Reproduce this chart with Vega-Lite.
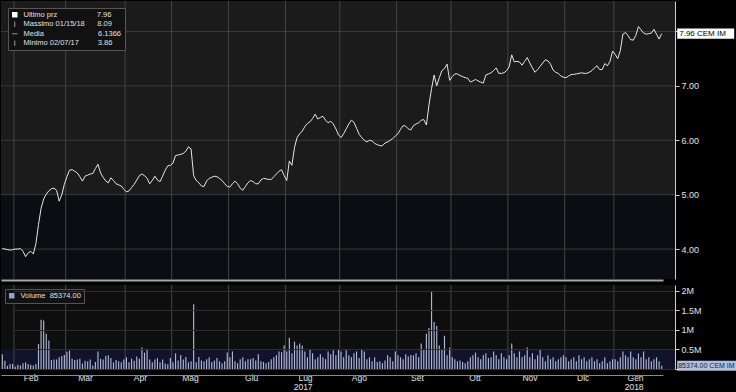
{
  "$schema": "https://vega.github.io/schema/vega-lite/v6.json",
  "background": "#000000",
  "padding": 0,
  "spacing": 1,
  "config": {
    "font": "Liberation Sans",
    "axis": {"labelColor": "#e0e0e0", "labelFont": "Liberation Sans", "labelFontSize": 9, "domainColor": "#c8c8c8", "tickColor": "#d0d0d0", "gridColor": "#383838", "labelOverlap": false},
    "legend": {"orient": "top-left", "title": null, "fillColor": "#111111", "strokeColor": "#555555", "padding": 3, "labelColor": "#e0e0e0", "labelFont": "Liberation Sans", "labelFontSize": 7.5, "rowPadding": 0.5, "labelOffset": 5, "symbolStrokeWidth": 0}
  },
  "datasets": {
    "mesi": [
      {"d": "2017-02-01"}, {"d": "2017-03-01"}, {"d": "2017-04-03"}, {"d": "2017-05-02"}, {"d": "2017-06-01"}, {"d": "2017-07-03"},
      {"d": "2017-08-01"}, {"d": "2017-09-01"}, {"d": "2017-10-02"}, {"d": "2017-11-01"}, {"d": "2017-12-01"}, {"d": "2018-01-02"}
    ],
    "serie": [
      {"d":"2017-01-25","p":4.01,"v":380000},{"d":"2017-01-26","p":4.00,"v":210000},{"d":"2017-01-27","p":3.99,"v":80000},{"d":"2017-01-30","p":3.98,"v":130000},{"d":"2017-01-31","p":3.99,"v":130000},
      {"d":"2017-02-01","p":4.00,"v":60000},{"d":"2017-02-02","p":4.00,"v":110000},{"d":"2017-02-03","p":4.01,"v":90000},{"d":"2017-02-06","p":3.96,"v":150000},{"d":"2017-02-07","p":3.86,"v":170000},
      {"d":"2017-02-08","p":3.93,"v":130000},{"d":"2017-02-09","p":3.96,"v":110000},{"d":"2017-02-10","p":3.91,"v":90000},{"d":"2017-02-13","p":4.10,"v":130000},{"d":"2017-02-14","p":4.45,"v":640000},
      {"d":"2017-02-15","p":4.75,"v":1260000},{"d":"2017-02-16","p":4.92,"v":1240000},{"d":"2017-02-17","p":5.01,"v":900000},{"d":"2017-02-20","p":5.07,"v":730000},{"d":"2017-02-21","p":5.11,"v":230000},
      {"d":"2017-02-22","p":5.12,"v":240000},{"d":"2017-02-23","p":5.08,"v":240000},{"d":"2017-02-24","p":4.88,"v":300000},{"d":"2017-02-27","p":5.00,"v":330000},{"d":"2017-02-28","p":5.19,"v":360000},
      {"d":"2017-03-01","p":5.33,"v":440000},{"d":"2017-03-02","p":5.45,"v":470000},{"d":"2017-03-03","p":5.46,"v":260000},{"d":"2017-03-06","p":5.43,"v":230000},{"d":"2017-03-07","p":5.40,"v":240000},
      {"d":"2017-03-08","p":5.33,"v":260000},{"d":"2017-03-09","p":5.25,"v":140000},{"d":"2017-03-10","p":5.34,"v":210000},{"d":"2017-03-13","p":5.36,"v":190000},{"d":"2017-03-14","p":5.38,"v":240000},
      {"d":"2017-03-15","p":5.39,"v":90000},{"d":"2017-03-16","p":5.48,"v":180000},{"d":"2017-03-17","p":5.56,"v":450000},{"d":"2017-03-20","p":5.40,"v":260000},{"d":"2017-03-21","p":5.32,"v":240000},
      {"d":"2017-03-22","p":5.25,"v":330000},{"d":"2017-03-23","p":5.22,"v":350000},{"d":"2017-03-24","p":5.31,"v":280000},{"d":"2017-03-27","p":5.26,"v":170000},{"d":"2017-03-28","p":5.20,"v":230000},
      {"d":"2017-03-29","p":5.18,"v":200000},{"d":"2017-03-30","p":5.16,"v":170000},{"d":"2017-03-31","p":5.10,"v":240000},{"d":"2017-04-03","p":5.05,"v":300000},{"d":"2017-04-04","p":5.07,"v":170000},
      {"d":"2017-04-05","p":5.13,"v":260000},{"d":"2017-04-06","p":5.19,"v":210000},{"d":"2017-04-07","p":5.27,"v":320000},{"d":"2017-04-10","p":5.35,"v":260000},{"d":"2017-04-11","p":5.38,"v":550000},
      {"d":"2017-04-12","p":5.35,"v":420000},{"d":"2017-04-13","p":5.30,"v":520000},{"d":"2017-04-18","p":5.20,"v":240000},{"d":"2017-04-19","p":5.26,"v":170000},{"d":"2017-04-20","p":5.34,"v":240000},
      {"d":"2017-04-21","p":5.27,"v":280000},{"d":"2017-04-24","p":5.24,"v":170000},{"d":"2017-04-25","p":5.34,"v":240000},{"d":"2017-04-26","p":5.45,"v":140000},{"d":"2017-04-27","p":5.53,"v":120000},
      {"d":"2017-04-28","p":5.54,"v":280000},{"d":"2017-05-02","p":5.58,"v":170000},{"d":"2017-05-03","p":5.72,"v":400000},{"d":"2017-05-04","p":5.73,"v":220000},{"d":"2017-05-05","p":5.74,"v":360000},
      {"d":"2017-05-08","p":5.76,"v":240000},{"d":"2017-05-09","p":5.80,"v":310000},{"d":"2017-05-10","p":5.88,"v":170000},{"d":"2017-05-11","p":5.84,"v":200000},{"d":"2017-05-12","p":5.35,"v":1660000},
      {"d":"2017-05-15","p":5.26,"v":170000},{"d":"2017-05-16","p":5.22,"v":310000},{"d":"2017-05-17","p":5.16,"v":220000},{"d":"2017-05-18","p":5.15,"v":200000},{"d":"2017-05-19","p":5.25,"v":250000},
      {"d":"2017-05-22","p":5.30,"v":300000},{"d":"2017-05-23","p":5.32,"v":180000},{"d":"2017-05-24","p":5.34,"v":220000},{"d":"2017-05-25","p":5.33,"v":280000},{"d":"2017-05-26","p":5.30,"v":200000},
      {"d":"2017-05-29","p":5.26,"v":150000},{"d":"2017-05-30","p":5.20,"v":200000},{"d":"2017-05-31","p":5.15,"v":420000},{"d":"2017-06-01","p":5.14,"v":300000},{"d":"2017-06-02","p":5.20,"v":450000},
      {"d":"2017-06-05","p":5.25,"v":200000},{"d":"2017-06-06","p":5.20,"v":150000},{"d":"2017-06-07","p":5.12,"v":250000},{"d":"2017-06-08","p":5.08,"v":300000},{"d":"2017-06-09","p":5.15,"v":200000},
      {"d":"2017-06-12","p":5.22,"v":250000},{"d":"2017-06-13","p":5.26,"v":250000},{"d":"2017-06-14","p":5.24,"v":280000},{"d":"2017-06-15","p":5.20,"v":220000},{"d":"2017-06-16","p":5.20,"v":380000},
      {"d":"2017-06-19","p":5.27,"v":200000},{"d":"2017-06-20","p":5.30,"v":180000},{"d":"2017-06-21","p":5.29,"v":150000},{"d":"2017-06-22","p":5.28,"v":180000},{"d":"2017-06-23","p":5.28,"v":250000},
      {"d":"2017-06-26","p":5.33,"v":300000},{"d":"2017-06-27","p":5.38,"v":350000},{"d":"2017-06-28","p":5.43,"v":450000},{"d":"2017-06-29","p":5.46,"v":430000},{"d":"2017-06-30","p":5.35,"v":600000},
      {"d":"2017-07-03","p":5.26,"v":450000},{"d":"2017-07-04","p":5.62,"v":800000},{"d":"2017-07-05","p":5.54,"v":400000},{"d":"2017-07-06","p":5.87,"v":700000},{"d":"2017-07-07","p":6.05,"v":600000},
      {"d":"2017-07-10","p":6.12,"v":650000},{"d":"2017-07-11","p":6.17,"v":600000},{"d":"2017-07-12","p":6.25,"v":450000},{"d":"2017-07-13","p":6.31,"v":300000},{"d":"2017-07-14","p":6.34,"v":500000},
      {"d":"2017-07-17","p":6.40,"v":400000},{"d":"2017-07-18","p":6.48,"v":250000},{"d":"2017-07-19","p":6.39,"v":300000},{"d":"2017-07-20","p":6.42,"v":380000},{"d":"2017-07-21","p":6.44,"v":300000},
      {"d":"2017-07-24","p":6.37,"v":250000},{"d":"2017-07-25","p":6.32,"v":450000},{"d":"2017-07-26","p":6.35,"v":380000},{"d":"2017-07-27","p":6.30,"v":480000},{"d":"2017-07-28","p":6.21,"v":350000},
      {"d":"2017-07-31","p":6.10,"v":500000},{"d":"2017-08-01","p":6.05,"v":450000},{"d":"2017-08-02","p":6.12,"v":300000},{"d":"2017-08-03","p":6.21,"v":480000},{"d":"2017-08-04","p":6.30,"v":350000},
      {"d":"2017-08-07","p":6.37,"v":300000},{"d":"2017-08-08","p":6.33,"v":400000},{"d":"2017-08-09","p":6.22,"v":450000},{"d":"2017-08-10","p":6.11,"v":280000},{"d":"2017-08-11","p":6.05,"v":500000},
      {"d":"2017-08-14","p":6.00,"v":450000},{"d":"2017-08-16","p":5.97,"v":250000},{"d":"2017-08-17","p":6.00,"v":300000},{"d":"2017-08-18","p":5.99,"v":200000},{"d":"2017-08-21","p":5.94,"v":300000},
      {"d":"2017-08-22","p":5.92,"v":180000},{"d":"2017-08-23","p":5.90,"v":200000},{"d":"2017-08-24","p":5.90,"v":150000},{"d":"2017-08-25","p":5.95,"v":220000},{"d":"2017-08-28","p":5.97,"v":350000},
      {"d":"2017-08-29","p":6.00,"v":300000},{"d":"2017-08-30","p":6.03,"v":200000},{"d":"2017-08-31","p":6.08,"v":450000},{"d":"2017-09-01","p":6.12,"v":350000},{"d":"2017-09-04","p":6.20,"v":300000},
      {"d":"2017-09-05","p":6.27,"v":250000},{"d":"2017-09-06","p":6.26,"v":380000},{"d":"2017-09-07","p":6.21,"v":320000},{"d":"2017-09-08","p":6.19,"v":360000},{"d":"2017-09-11","p":6.27,"v":350000},
      {"d":"2017-09-12","p":6.30,"v":400000},{"d":"2017-09-13","p":6.32,"v":300000},{"d":"2017-09-14","p":6.37,"v":650000},{"d":"2017-09-15","p":6.38,"v":500000},{"d":"2017-09-18","p":6.28,"v":900000},
      {"d":"2017-09-19","p":6.65,"v":1050000},{"d":"2017-09-20","p":6.95,"v":2000000},{"d":"2017-09-21","p":7.20,"v":1200000},{"d":"2017-09-22","p":7.00,"v":1100000},{"d":"2017-09-25","p":7.15,"v":600000},
      {"d":"2017-09-26","p":7.28,"v":500000},{"d":"2017-09-27","p":7.32,"v":850000},{"d":"2017-09-28","p":7.40,"v":350000},{"d":"2017-09-29","p":7.10,"v":550000},{"d":"2017-10-02","p":7.17,"v":300000},
      {"d":"2017-10-03","p":7.22,"v":250000},{"d":"2017-10-04","p":7.22,"v":200000},{"d":"2017-10-05","p":7.19,"v":220000},{"d":"2017-10-06","p":7.17,"v":180000},{"d":"2017-10-09","p":7.15,"v":150000},
      {"d":"2017-10-10","p":7.14,"v":200000},{"d":"2017-10-11","p":7.07,"v":300000},{"d":"2017-10-12","p":7.09,"v":350000},{"d":"2017-10-13","p":7.12,"v":420000},{"d":"2017-10-16","p":7.09,"v":300000},
      {"d":"2017-10-17","p":7.07,"v":250000},{"d":"2017-10-18","p":7.05,"v":350000},{"d":"2017-10-19","p":7.20,"v":400000},{"d":"2017-10-20","p":7.22,"v":280000},{"d":"2017-10-23","p":7.24,"v":300000},
      {"d":"2017-10-24","p":7.28,"v":450000},{"d":"2017-10-25","p":7.33,"v":350000},{"d":"2017-10-26","p":7.23,"v":250000},{"d":"2017-10-27","p":7.23,"v":400000},{"d":"2017-10-30","p":7.24,"v":300000},
      {"d":"2017-10-31","p":7.28,"v":250000},{"d":"2017-11-01","p":7.35,"v":350000},{"d":"2017-11-02","p":7.57,"v":650000},{"d":"2017-11-03","p":7.44,"v":400000},{"d":"2017-11-06","p":7.45,"v":300000},
      {"d":"2017-11-07","p":7.44,"v":450000},{"d":"2017-11-08","p":7.38,"v":300000},{"d":"2017-11-09","p":7.45,"v":350000},{"d":"2017-11-10","p":7.52,"v":550000},{"d":"2017-11-13","p":7.42,"v":300000},
      {"d":"2017-11-14","p":7.33,"v":400000},{"d":"2017-11-15","p":7.25,"v":250000},{"d":"2017-11-16","p":7.30,"v":350000},{"d":"2017-11-17","p":7.36,"v":500000},{"d":"2017-11-20","p":7.42,"v":300000},
      {"d":"2017-11-21","p":7.48,"v":200000},{"d":"2017-11-22","p":7.46,"v":350000},{"d":"2017-11-23","p":7.40,"v":250000},{"d":"2017-11-24","p":7.29,"v":300000},{"d":"2017-11-27","p":7.25,"v":200000},
      {"d":"2017-11-28","p":7.23,"v":250000},{"d":"2017-11-29","p":7.18,"v":300000},{"d":"2017-11-30","p":7.16,"v":350000},{"d":"2017-12-01","p":7.15,"v":300000},{"d":"2017-12-04","p":7.18,"v":200000},
      {"d":"2017-12-05","p":7.21,"v":250000},{"d":"2017-12-06","p":7.21,"v":300000},{"d":"2017-12-07","p":7.22,"v":200000},{"d":"2017-12-08","p":7.23,"v":350000},{"d":"2017-12-11","p":7.24,"v":250000},
      {"d":"2017-12-12","p":7.23,"v":300000},{"d":"2017-12-13","p":7.23,"v":200000},{"d":"2017-12-14","p":7.25,"v":250000},{"d":"2017-12-15","p":7.28,"v":300000},{"d":"2017-12-18","p":7.33,"v":200000},
      {"d":"2017-12-19","p":7.37,"v":250000},{"d":"2017-12-20","p":7.30,"v":150000},{"d":"2017-12-21","p":7.30,"v":200000},{"d":"2017-12-22","p":7.41,"v":300000},{"d":"2017-12-27","p":7.37,"v":150000},
      {"d":"2017-12-28","p":7.45,"v":200000},{"d":"2017-12-29","p":7.64,"v":250000},{"d":"2018-01-02","p":7.58,"v":250000},{"d":"2018-01-03","p":7.50,"v":200000},{"d":"2018-01-04","p":7.65,"v":300000},
      {"d":"2018-01-05","p":7.95,"v":450000},{"d":"2018-01-08","p":7.98,"v":350000},{"d":"2018-01-09","p":7.92,"v":300000},{"d":"2018-01-10","p":7.85,"v":450000},{"d":"2018-01-11","p":7.84,"v":300000},
      {"d":"2018-01-12","p":7.93,"v":250000},{"d":"2018-01-15","p":8.09,"v":400000},{"d":"2018-01-16","p":8.03,"v":300000},{"d":"2018-01-17","p":7.97,"v":450000},{"d":"2018-01-18","p":7.95,"v":250000},
      {"d":"2018-01-19","p":7.96,"v":300000},{"d":"2018-01-22","p":7.97,"v":200000},{"d":"2018-01-23","p":8.04,"v":250000},{"d":"2018-01-24","p":7.95,"v":300000},{"d":"2018-01-25","p":7.86,"v":200000},
      {"d":"2018-01-26","p":7.96,"v":85374}
    ]
  },
  "resolve": {
    "scale": {"x": "shared", "color": "independent", "shape": "independent"},
    "legend": {"color": "independent", "shape": "independent"}
  },
  "vconcat": [
    {
      "width": 674,
      "height": 278,
      "view": {"fill": "#0c0c13", "stroke": null},
      "layer": [
        {
          "data": {"values": [{}]},
          "mark": {"type": "rect", "color": "#1b1b1b"},
          "encoding": {"y": {"datum": 5, "type": "quantitative"}, "y2": {"datum": 8.56}}
        },
        {
          "data": {"values": [{"g": 4}, {"g": 5}, {"g": 6}, {"g": 7}, {"g": 8}]},
          "mark": {"type": "rule", "color": "#3a3a3a", "strokeWidth": 1},
          "encoding": {"y": {"field": "g", "type": "quantitative"}}
        },
        {
          "data": {"name": "mesi"},
          "mark": {"type": "rule", "color": "#444444", "strokeWidth": 1},
          "encoding": {"x": {"field": "d", "type": "ordinal", "bandPosition": 0}}
        },
        {
          "data": {"name": "serie"},
          "mark": {"type": "line", "color": "#e6e6e6", "strokeWidth": 1},
          "encoding": {
            "x": {
              "field": "d", "type": "ordinal",
              "scale": {"range": [0, 662], "paddingInner": 0, "paddingOuter": 0},
              "axis": {"title": null, "labels": false, "ticks": false, "grid": false, "domain": true, "domainColor": "#a8a8a8", "domainWidth": 2, "offset": 1, "maxExtent": 3, "minExtent": 3}
            },
            "y": {
              "field": "p", "type": "quantitative",
              "scale": {"domain": [3.45, 8.56], "zero": false, "nice": false},
              "axis": {
                "orient": "right", "title": null, "minExtent": 62, "grid": false, "labelOverlap": false,
                "values": [4, 4.5, 5, 5.5, 6, 6.5, 7, 7.5, 8],
                "labelExpr": "(datum.value % 1 == 0 && datum.value != 8) ? format(datum.value, '.2f') : ''",
                "tickSize": {"condition": {"test": "datum.value % 1 == 0", "value": 4}, "value": 2},
                "labelPadding": 2, "domainColor": "#cfcfcf"
              }
            }
          }
        },
        {
          "data": {"values": []},
          "mark": {"type": "point", "filled": true, "opacity": 1},
          "encoding": {
            "color": {
              "field": "k", "type": "nominal",
              "scale": {
                "domain": ["Ultimo prz\u00a0\u00a0\u00a0\u00a0\u00a0\u00a0\u00a0\u00a0\u00a0\u00a0\u00a0\u00a0\u00a0\u00a0\u00a0\u00a0\u00a0\u00a0\u00a07.96", "Massimo 01/15/18\u00a0\u00a0\u00a0\u00a0\u00a0\u00a08.09", "Media\u00a0\u00a0\u00a0\u00a0\u00a0\u00a0\u00a0\u00a0\u00a0\u00a0\u00a0\u00a0\u00a0\u00a0\u00a0\u00a0\u00a0\u00a0\u00a0\u00a0\u00a0\u00a0\u00a0\u00a0\u00a0\u00a06.1366", "Minimo 02/07/17\u00a0\u00a0\u00a0\u00a0\u00a0\u00a0\u00a0\u00a0\u00a03.86"],
                "range": ["#ffffff", "#8a8a8a", "#8a8a8a", "#8a8a8a"]
              },
              "legend": {"offset": 7, "symbolSize": 30, "labelFontSize": 7.5, "labelLimit": 200}
            },
            "shape": {
              "field": "k", "type": "nominal",
              "scale": {
                "domain": ["Ultimo prz\u00a0\u00a0\u00a0\u00a0\u00a0\u00a0\u00a0\u00a0\u00a0\u00a0\u00a0\u00a0\u00a0\u00a0\u00a0\u00a0\u00a0\u00a0\u00a07.96", "Massimo 01/15/18\u00a0\u00a0\u00a0\u00a0\u00a0\u00a08.09", "Media\u00a0\u00a0\u00a0\u00a0\u00a0\u00a0\u00a0\u00a0\u00a0\u00a0\u00a0\u00a0\u00a0\u00a0\u00a0\u00a0\u00a0\u00a0\u00a0\u00a0\u00a0\u00a0\u00a0\u00a0\u00a0\u00a06.1366", "Minimo 02/07/17\u00a0\u00a0\u00a0\u00a0\u00a0\u00a0\u00a0\u00a0\u00a03.86"],
                "range": ["square", "M-0.2,-1H0.2V1H-0.2Z", "M-1,-0.2H1V0.2H-1Z", "M-0.2,-1H0.2V1H-0.2Z"]
              },
              "legend": {"offset": 7, "symbolSize": 30, "labelFontSize": 7.5, "labelLimit": 200}
            }
          }
        },
        {
          "data": {"values": [{"d": "2018-01-26", "p": 7.96, "t": "7.96 CEM IM"}]},
          "layer": [
            {
              "mark": {"type": "point", "filled": true, "opacity": 1, "color": "#ffffff", "shape": "M0,-0.09H1V0.09H0Z", "size": 12996, "xOffset": 15.5, "strokeWidth": 0},
              "encoding": {"x": {"field": "d", "type": "ordinal"}, "y": {"field": "p", "type": "quantitative"}}
            },
            {
              "mark": {"type": "text", "color": "#000000", "align": "left", "baseline": "middle", "dx": 17.5, "fontSize": 8, "font": "Liberation Sans"},
              "encoding": {"x": {"field": "d", "type": "ordinal"}, "y": {"field": "p", "type": "quantitative"}, "text": {"field": "t"}}
            }
          ]
        }
      ]
    },
    {
      "width": 674,
      "height": 84,
      "view": {"fill": "#0e0e0e", "stroke": null},
      "layer": [
        {
          "data": {"values": [{}]},
          "mark": {"type": "rect", "color": "#12122a"},
          "encoding": {"y": {"datum": 0, "type": "quantitative"}, "y2": {"datum": 500000}}
        },
        {
          "data": {"name": "mesi"},
          "mark": {"type": "rule", "color": "#444444", "strokeWidth": 1},
          "encoding": {"x": {"field": "d", "type": "ordinal", "bandPosition": 0}}
        },
        {
          "data": {"name": "serie"},
          "mark": {"type": "bar", "color": "#a9b7d8", "width": {"band": 0.45}},
          "encoding": {
            "x": {
              "field": "d", "type": "ordinal",
              "scale": {"range": [0, 662], "paddingInner": 0, "paddingOuter": 0},
              "axis": {
                "title": null, "orient": "bottom", "offset": 6, "ticks": false, "grid": false,
                "values": ["2017-02-14", "2017-03-15", "2017-04-13", "2017-05-16", "2017-06-16", "2017-07-17", "2017-08-16", "2017-09-15", "2017-10-17", "2017-11-16", "2017-12-14", "2018-01-17"],
                "labelExpr": "datum.value == '2017-07-17' ? ['Lug', '2017'] : datum.value == '2018-01-17' ? ['Gen', '2018'] : ['Gen','Feb','Mar','Apr','Mag','Giu','Lug','Ago','Set','Ott','Nov','Dic'][toNumber(substring(datum.value, 5, 7)) - 1]",
                "labelAngle": 0, "labelPadding": 2, "labelLineHeight": 9, "labelFontSize": 8.5,
                "domainColor": "#8a8a8a", "minExtent": 26, "maxExtent": 26
              }
            },
            "y": {
              "field": "v", "type": "quantitative",
              "scale": {"domain": [0, 2150000], "nice": false},
              "axis": {
                "orient": "right", "title": null, "minExtent": 62, "labelOverlap": false,
                "grid": true, "gridColor": "#2e2e2e", "zindex": 1,
                "tickCount": 5,
                "labelExpr": "datum.value == 0 ? '' : format(datum.value / 1000000, '~g') + 'M'",
                "tickSize": 4, "labelPadding": 2, "domainColor": "#cfcfcf"
              }
            }
          }
        },
        {
          "data": {"values": []},
          "mark": {"type": "point", "filled": true, "opacity": 1},
          "encoding": {
            "color": {
              "field": "k", "type": "nominal",
              "scale": {"domain": ["Volume\u00a0\u00a085374.00"], "range": ["#8fa2d4"]},
              "legend": {"offset": 4, "symbolType": "square", "symbolSize": 30, "labelFontSize": 7.5, "padding": 3}
            }
          }
        },
        {
          "data": {"values": [{"d": "2018-01-26", "v": 85374, "t": "85374.00 CEM IM"}]},
          "layer": [
            {
              "mark": {"type": "point", "filled": true, "opacity": 1, "color": "#aebfe0", "shape": "M0,-0.085H1V0.085H0Z", "size": 13924, "xOffset": 15.5, "strokeWidth": 0},
              "encoding": {"x": {"field": "d", "type": "ordinal"}, "y": {"field": "v", "type": "quantitative"}}
            },
            {
              "mark": {"type": "text", "color": "#1a2440", "align": "left", "baseline": "middle", "dx": 16.5, "fontSize": 7, "font": "Liberation Sans"},
              "encoding": {"x": {"field": "d", "type": "ordinal"}, "y": {"field": "v", "type": "quantitative"}, "text": {"field": "t"}}
            }
          ]
        }
      ]
    }
  ]
}
